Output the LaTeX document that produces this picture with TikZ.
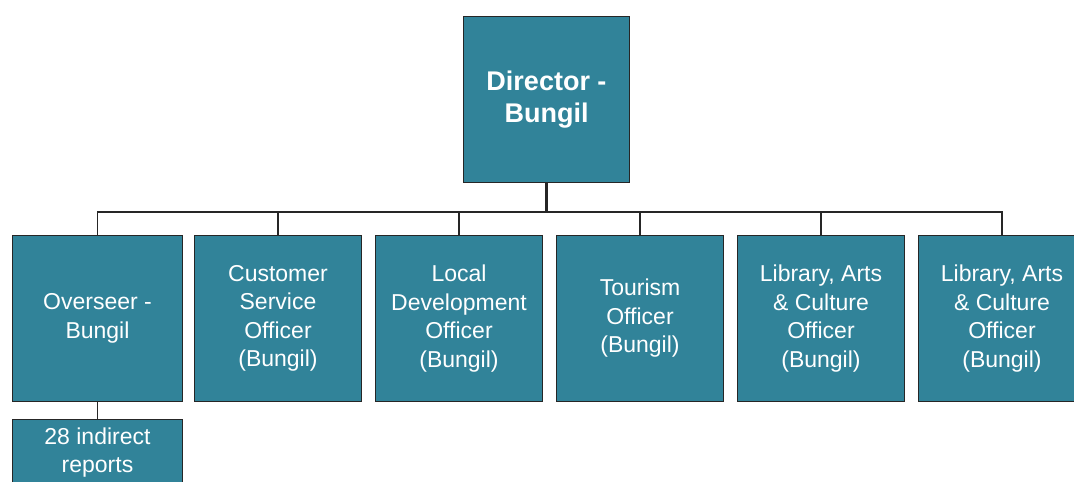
\documentclass[tikz,border=0pt]{standalone}
\usepackage{fontspec}
\setmainfont{Liberation Sans}
\usepackage{tikz}
\definecolor{bungilteal}{RGB}{49,131,153}
\tikzstyle{block}=[draw=black!85, line width=1.4pt, fill=bungilteal, text=white, inner sep=0pt, minimum width=166.6pt, minimum height=165.6pt, align=center, font=\fontsize{23}{28.5}\selectfont]
\tikzstyle{link}=[line width=1.8pt, black!85]
\usetikzlibrary{positioning}

\begin{document}
\begin{tikzpicture}[node distance=13pt]
\useasboundingbox (0,0) rectangle (1074pt,-482pt);
\node (dir) [block, minimum width=165.6pt, font=\fontsize{27}{32}\selectfont\bfseries] at (546.5pt,-99.5pt) {Director -\\Bungil};
\node (bus) [below =29pt of dir.south, coordinate] {};
\node (ov) [block, minimum width=169.6pt] at (97.5pt,-318.5pt) {Overseer -\\Bungil};
\node (cs) [right =11pt of ov, block] {Customer\\Service\\Officer\\(Bungil)};
\node (ld) [right =of cs, block] {Local\\Development\\Officer\\(Bungil)};
\node (tour) [right =of ld, block] {Tourism\\Officer\\(Bungil)};
\node (lib1) [right =of tour, block] {Library, Arts\\\& Culture\\Officer\\(Bungil)};
\node (lib2) [right =of lib1, block] {Library, Arts\\\& Culture\\Officer\\(Bungil)};
\node (rep) [below =17pt of ov, block, minimum width=169.6pt, minimum height=66pt] {28 indirect\\reports};
\draw[link, line width=2.8pt] (dir) -- (bus);
\draw[link] (bus) -| (ov);
\draw[link] (bus) -| (cs);
\draw[link] (bus) -| (ld);
\draw[link] (bus) -| (tour);
\draw[link] (bus) -| (lib1);
\draw[link] (bus) -| (lib2);
\draw[link] (ov) -- (rep);
\end{tikzpicture}
\end{document}
